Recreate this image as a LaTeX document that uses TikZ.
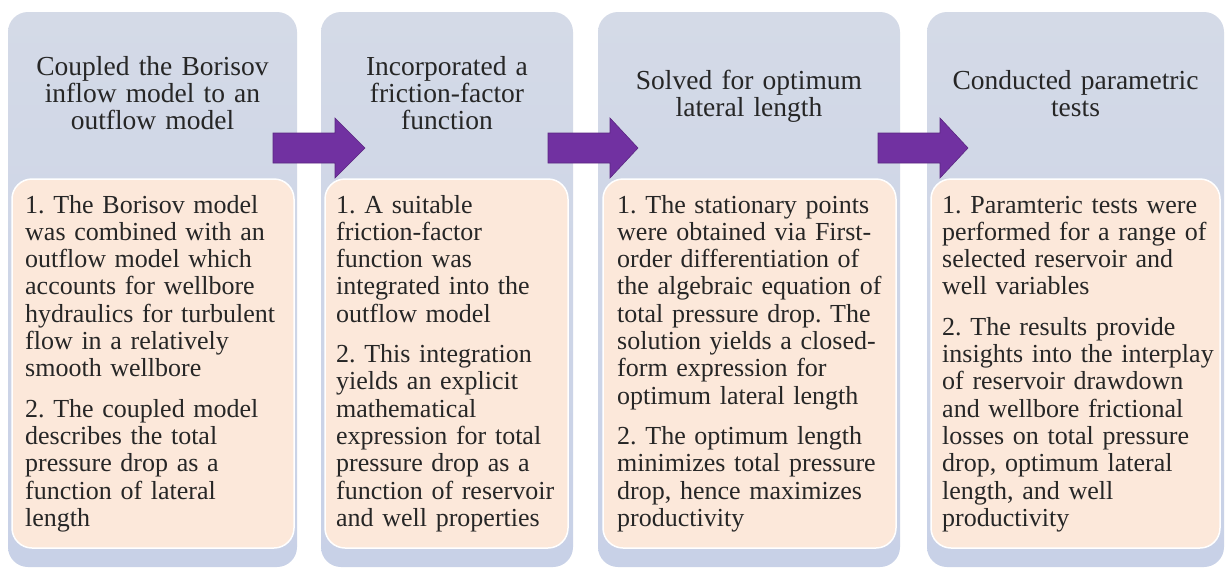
\documentclass[tikz,border=0pt]{standalone}
\usepackage{fontspec}
\setmainfont{Liberation Serif}
\frenchspacing
\definecolor{boxblueTop}{HTML}{D4DAE7}
\definecolor{boxblueBot}{HTML}{C8D1E7}
\definecolor{boxorange}{HTML}{FCE8DA}
\definecolor{arrowpurple}{HTML}{7131A1}
\definecolor{txt}{HTML}{262626}
\tikzset{
  bluebox/.style={rectangle, rounded corners=20pt, inner sep=0pt, top color=boxblueTop, bottom color=boxblueBot, draw=none},
  orangebox/.style={rectangle, rounded corners=20pt, inner sep=0pt, fill=boxorange, draw=white, line width=1.5pt},
  titletext/.style={anchor=base, align=center, inner sep=0pt, text=txt, font=\fontsize{27.5}{27}\selectfont},
  bodytext/.style={anchor=base west, align=left, text width=292pt, inner sep=0pt, text=txt, font=\fontsize{26}{27.3}\selectfont},
  blockarrow/.style={fill=arrowpurple, draw=arrowpurple!80!black, line width=0.6pt}
}
\begin{document}
\begin{tikzpicture}[x=1pt,y=-1pt]
\useasboundingbox (0,0) rectangle (1229,571);
\fill[white] (0,0) rectangle (1229,571);
% blue columns
\node[bluebox, minimum width=289pt, minimum height=555pt] (b1) at (152.5,289.5) {};
\node[bluebox, minimum width=252pt, minimum height=555pt] (b2) at (447,289.5) {};
\node[bluebox, minimum width=302pt, minimum height=555pt] (b3) at (749,289.5) {};
\node[bluebox, minimum width=297pt, minimum height=555pt] (b4) at (1075.5,289.5) {};
% orange panels
\node[orangebox, minimum width=282pt, minimum height=369pt] (o1) at (153,363.5) {};
\node[orangebox, minimum width=243pt, minimum height=369pt] (o2) at (446.5,363.5) {};
\node[orangebox, minimum width=293pt, minimum height=369pt] (o3) at (749.5,363.5) {};
\node[orangebox, minimum width=289pt, minimum height=369pt] (o4) at (1075.5,363.5) {};
% titles
\node[titletext, text width=280pt] (t1) at (152.5,75) {Coupled the Borisov\\inflow model to an\\outflow model};
\node[titletext, text width=245pt] (t2) at (447,75) {Incorporated a\\friction-factor\\function};
\node[titletext, text width=290pt] (t3) at (749,89) {Solved for optimum\\lateral length};
\node[titletext, text width=290pt] (t4) at (1075.5,89) {Conducted parametric\\tests};
% bodies
\node[bodytext] (p1) at (25,213) {1. The Borisov model\\was combined with an\\outflow model which\\accounts for wellbore\\hydraulics for turbulent\\flow in a relatively\\smooth wellbore\\[13pt]2. The coupled model\\describes the total\\pressure drop as a\\function of lateral\\length};
\node[bodytext] (p2) at (336,213) {1. A suitable\\friction-factor\\function was\\integrated into the\\outflow model\\[13pt]2. This integration\\yields an explicit\\mathematical\\expression for total\\pressure drop as a\\function of reservoir\\and well properties};
\node[bodytext] (p3) at (617,213) {1. The stationary points\\were obtained via First-\\order differentiation of\\the algebraic equation of\\total pressure drop. The\\solution yields a closed-\\form expression for\\optimum lateral length\\[13pt]2. The optimum length\\minimizes total pressure\\drop, hence maximizes\\productivity};
\node[bodytext] (p4) at (942,213) {1. Paramteric tests were\\performed for a range of\\selected reservoir and\\well variables\\[13pt]2. The results provide\\insights into the interplay\\of reservoir drawdown\\and wellbore frictional\\losses on total pressure\\drop, optimum lateral\\length, and well\\productivity};
% block arrows
\fill[blockarrow] (273,133) -- (335,133) -- (335,118) -- (365,148) -- (335,178) -- (335,163) -- (273,163) -- cycle;
\fill[blockarrow] (548,133) -- (610,133) -- (610,118) -- (638,148) -- (610,178) -- (610,163) -- (548,163) -- cycle;
\fill[blockarrow] (878,133) -- (940,133) -- (940,118) -- (968,148) -- (940,178) -- (940,163) -- (878,163) -- cycle;
\end{tikzpicture}
\end{document}
